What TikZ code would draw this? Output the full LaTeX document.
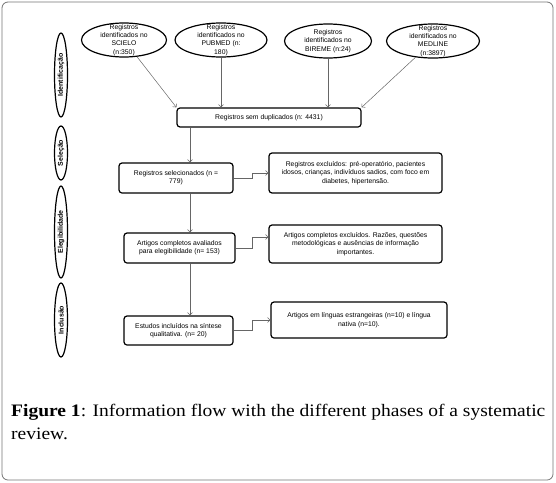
\documentclass[tikz,border=0pt]{standalone}
\usepackage{fontspec}
\setmainfont[FakeStretch=1.115]{Liberation Serif}
\newfontfamily\boxfont{Liberation Sans}
\usetikzlibrary{shapes.geometric,arrows.meta}

\begin{document}
\begin{tikzpicture}[x=1pt, y=-1pt,
    every node/.style={font=\boxfont\fontsize{6.8}{8.4}\selectfont, align=center, inner sep=1pt},
    phase/.style={ellipse, draw, line width=1.2pt, rotate=90, minimum height=13pt, inner sep=0pt, font=\boxfont\bfseries\fontsize{7}{7}\selectfont},
    source/.style={ellipse, draw, line width=1.2pt, minimum height=34pt, inner sep=0pt},
    stepbox/.style={draw, rounded corners=3pt, line width=1.2pt},
    flow/.style={draw=black!60, line width=0.5pt, -{Straight Barb[length=2.5pt,width=5pt]}}]
    \useasboundingbox (0,0) rectangle (556,482);
    \draw[black!55, line width=0.8pt, rounded corners=6pt] (2,2) rectangle (553,480);

    % fases
    \node[phase, minimum width=84pt] (ident) at (61,75) {Identificação};
    \node[phase, minimum width=54pt] (selec) at (61,153) {Seleção};
    \node[phase, minimum width=92pt] (elegi) at (61,232) {Elegibilidade};
    \node[phase, minimum width=74pt] (inclu) at (61,320) {Inclusão};

    % bases de dados
    \node[source, minimum width=85pt, label={center:{Registros\\identificados no\\SCIELO\\(n:350)}}] (scielo) at (124,40) {};
    \node[source, minimum width=92pt, label={center:{Registros\\identificados no\\PUBMED (n:\\180)}}] (pubmed) at (221,40) {};
    \node[source, minimum width=87pt, label={center:{Registros\\identificados no\\BIREME (n:24)}}] (bireme) at (328,41) {};
    \node[source, minimum width=93pt, label={center:{Registros\\identificados no\\MEDLINE\\(n:3897)}}] (medline) at (433,41) {};

    \node[stepbox, minimum width=184pt, minimum height=19pt] (dup) at (269,117.5) {Registros sem duplicados (n: 4431)};
    \node[stepbox, minimum width=114pt, minimum height=30pt] (sel) at (176,178) {Registros selecionados (n =\\779)};
    \node[stepbox, minimum width=173pt, minimum height=40pt] (exc1) at (355.5,173) {Registros excluídos: pré-operatório, pacientes\\idosos, crianças, indivíduos sadios, com foco em\\diabetes, hipertensão.};
    \node[stepbox, minimum width=111pt, minimum height=30pt] (ava) at (179.5,248) {Artigos completos avaliados\\para elegibilidade (n= 153)};
    \node[stepbox, minimum width=173pt, minimum height=38pt] (exc2) at (355.5,244) {Artigos completos excluídos. Razões, questões\\metodológicas e ausências de informação\\importantes.};
    \node[stepbox, minimum width=109pt, minimum height=29pt] (inc) at (178.5,330.5) {Estudos incluídos na síntese\\qualitativa. (n= 20)};
    \node[stepbox, minimum width=176pt, minimum height=36pt] (exc3) at (359,320) {Artigos em línguas estrangeiras (n=10) e língua\\nativa (n=10).};
    \coordinate (spine) at (190,0);

    \draw[flow] (scielo) -- (dup.north west);
    \draw[flow] (pubmed) -- (pubmed |- dup.north);
    \draw[flow] (bireme) -- (bireme |- dup.north);
    \draw[flow] (medline) -- (dup.north east);
    \draw[flow] (dup.south -| spine) -- (sel.north -| spine);
    \draw[flow] (sel.south -| spine) -- (ava.north -| spine);
    \draw[flow] (ava.south -| spine) -- (inc.north -| spine);
    \draw[flow] (sel.east) -- ++(19,0) |- (exc1.west);
    \draw[flow] (ava.east) -- ++(17,0) |- ([yshift=7pt]exc2.west);
    \draw[flow] (inc.east) -- ++(19,0) |- (exc3.west);

    \node[font=\fontsize{17.5}{23}\selectfont, align=left, anchor=north west, inner sep=0pt] (caption) at (11,404) {\textbf{Figure 1}: Information flow with the different phases of a systematic\\review.};
\end{tikzpicture}
\end{document}
